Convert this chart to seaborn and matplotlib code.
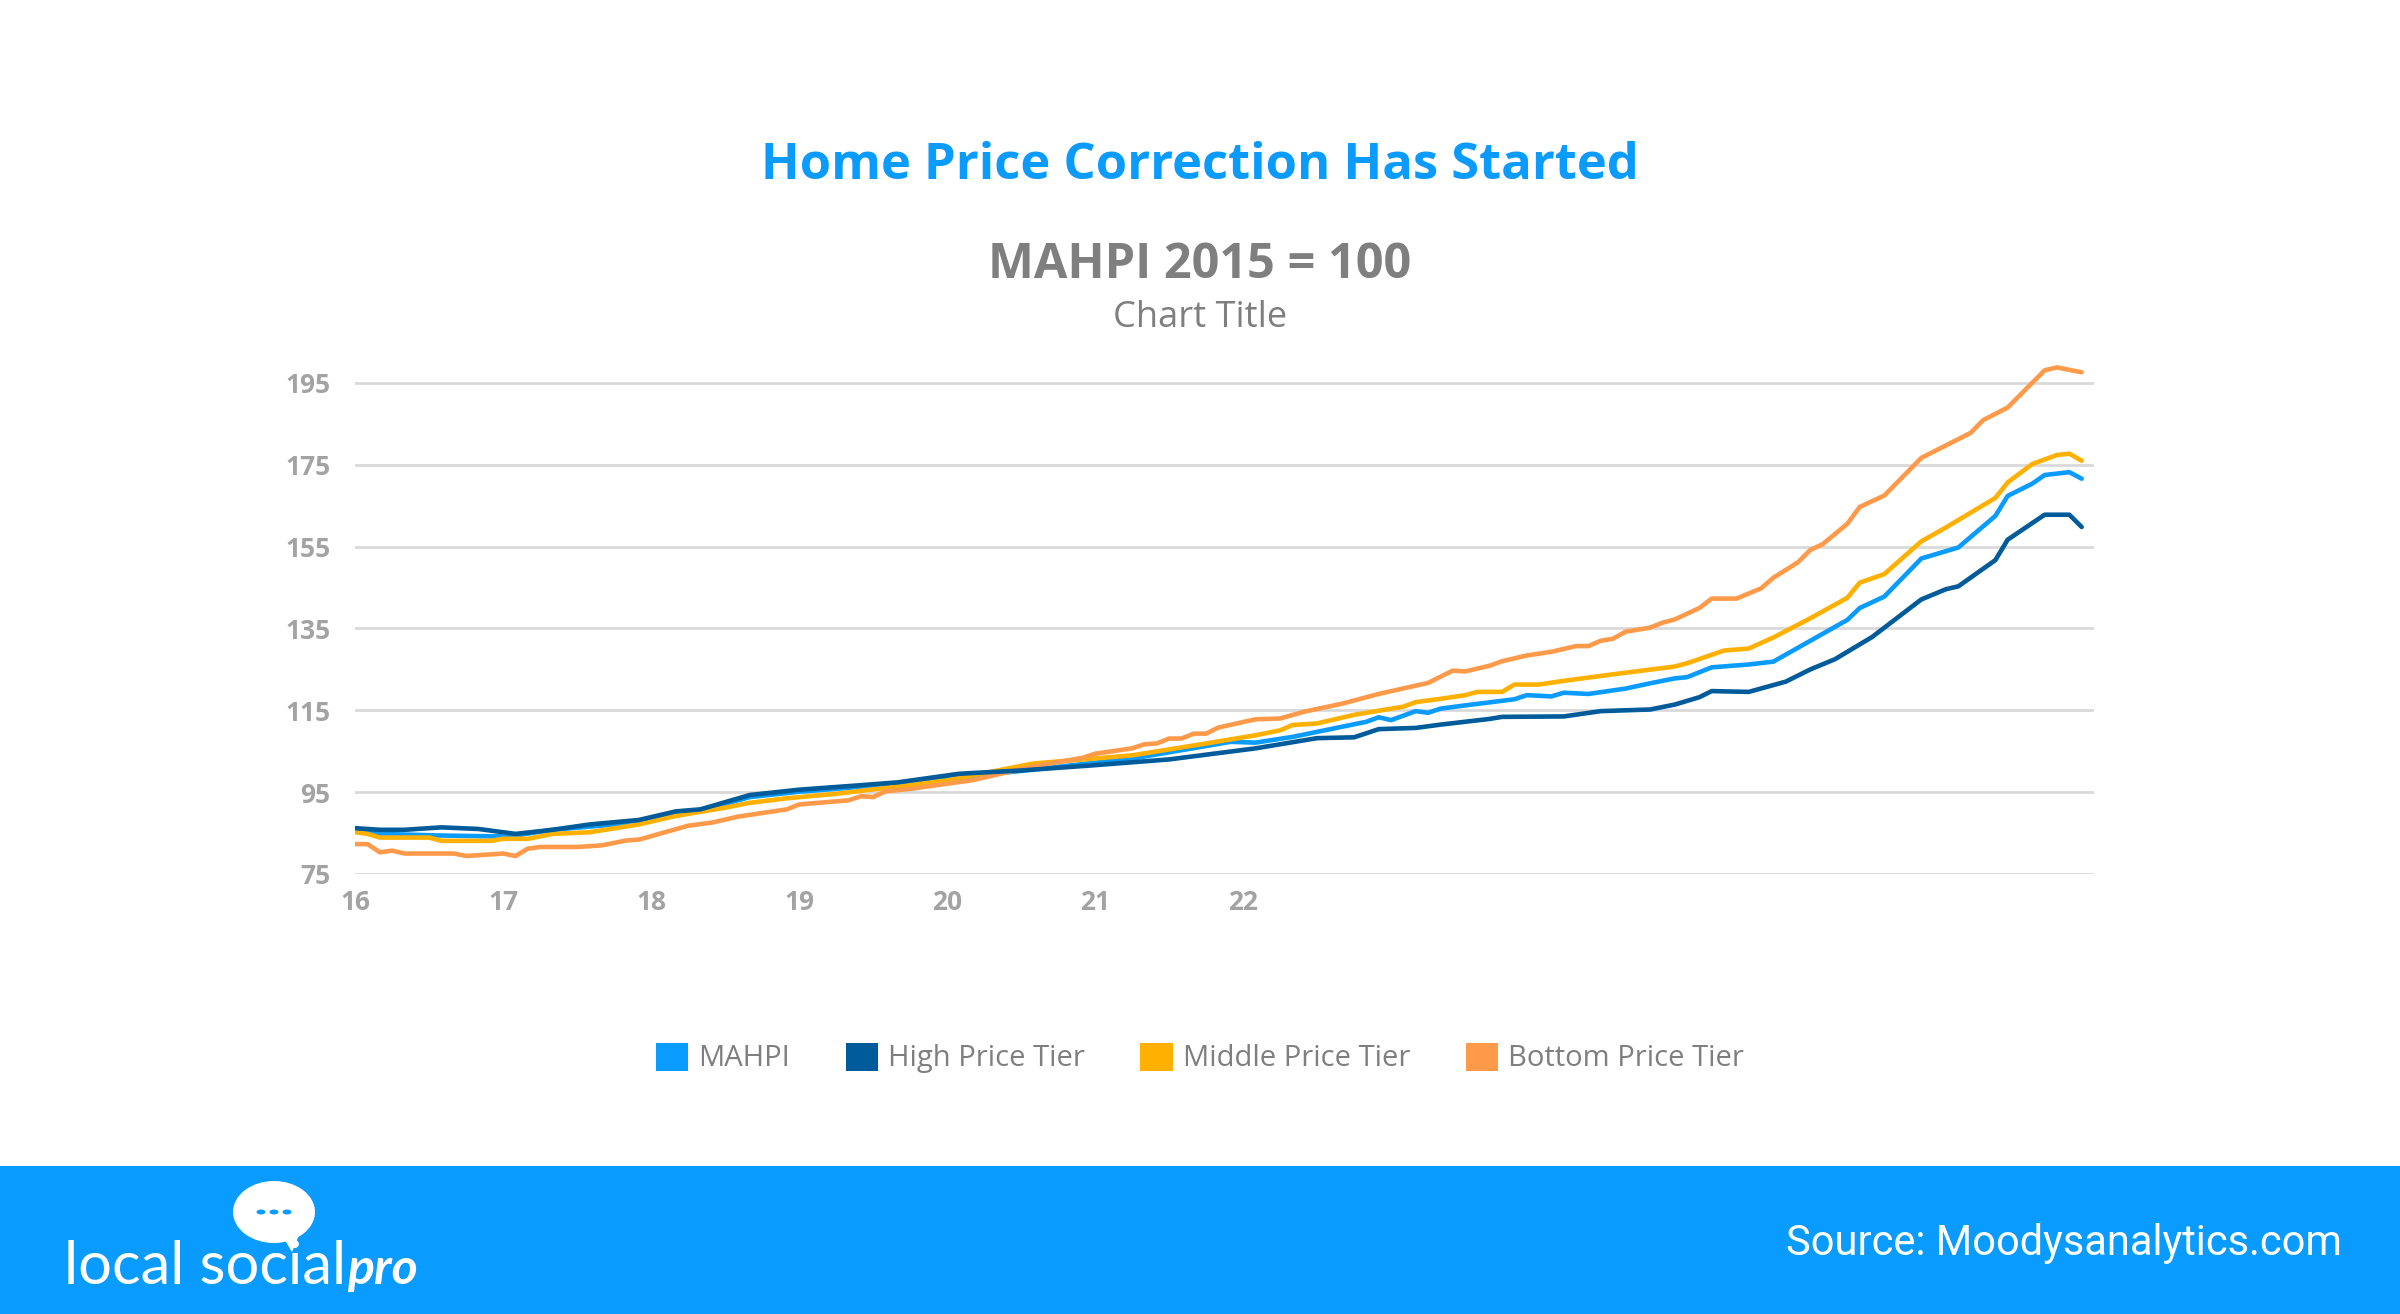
import pandas as pd
import seaborn as sns
import matplotlib.pyplot as plt
from matplotlib.patches import Patch, Rectangle, Ellipse, Polygon, Circle

# Moody's Analytics home price index, 2015 = 100 (months since Jan 2016)
mahpi_months = [0, 2, 7, 11, 13, 16, 23, 28, 32, 36, 44, 48, 54, 63, 71, 73, 76, 82, 83, 84,
                86, 87, 88, 90, 94, 95, 97, 98, 100, 103, 105, 107, 108, 110, 113, 115, 116,
                118, 121, 122, 124, 127, 130, 133, 134, 136, 137, 139, 140]
mahpi_values = [85.6, 84.8, 84.4, 84.2, 84.4, 85.8, 87.6, 90.4, 93.8, 95.1, 97.0, 98.3, 100.2,
                103.2, 107.3, 107.1, 108.5, 112.2, 113.3, 112.6, 114.8, 114.4, 115.4, 116.2,
                117.7, 118.7, 118.4, 119.3, 119.0, 120.3, 121.6, 122.8, 123.1, 125.5, 126.2,
                126.9, 128.6, 132.0, 137.1, 140.0, 142.8, 152.1, 154.8, 162.5, 167.4, 170.4,
                172.5, 173.2, 171.6]

high_months = [0, 2, 4, 7, 10, 13, 16, 19, 23, 26, 28, 32, 36, 41, 44, 49, 54, 60, 66, 73, 78,
               81, 83, 86, 88, 92, 93, 98, 101, 105, 107, 109, 110, 113, 116, 118, 120, 123,
               127, 129, 130, 133, 134, 137, 139, 140]
high_values = [86.2, 85.8, 85.8, 86.4, 86.0, 84.8, 85.8, 87.1, 88.2, 90.3, 90.8, 94.3, 95.6,
               96.7, 97.4, 99.5, 100.3, 101.6, 103.0, 105.7, 108.2, 108.4, 110.4, 110.7, 111.5,
               112.9, 113.4, 113.5, 114.8, 115.2, 116.4, 118.2, 119.7, 119.5, 122.0, 125.0,
               127.5, 132.9, 142.1, 144.6, 145.3, 151.7, 156.7, 162.8, 162.8, 159.8]

middle_months = [0, 1, 2, 6, 7, 11, 12, 14, 16, 19, 23, 26, 30, 32, 35, 39, 44, 48, 55, 63, 69,
                 73, 75, 76, 78, 81, 85, 86, 88, 90, 91, 93, 94, 96, 98, 102, 107, 108, 111,
                 113, 115, 118, 121, 122, 124, 127, 129, 133, 134, 136, 138, 139, 140]
middle_values = [85.2, 84.8, 83.9, 83.9, 83.1, 83.1, 83.6, 83.6, 84.8, 85.2, 87.1, 89.2, 91.2,
                 92.4, 93.5, 94.6, 96.4, 97.9, 102.0, 104.0, 106.9, 108.9, 110.1, 111.4, 111.8,
                 113.9, 115.9, 117.0, 117.8, 118.7, 119.5, 119.5, 121.3, 121.3, 122.2, 123.8,
                 125.7, 126.5, 129.6, 130.1, 132.8, 137.5, 142.5, 146.2, 148.3, 156.3, 159.7,
                 166.9, 170.7, 175.2, 177.4, 177.7, 176.0]

bottom_months = [0, 1, 2, 3, 4, 8, 9, 12, 13, 14, 15, 18, 20, 22, 23, 27, 29, 31, 35, 36, 40,
                 41, 42, 43, 44, 45, 50, 55, 59, 60, 63, 64, 65, 66, 67, 68, 69, 70, 73, 75, 77,
                 80, 83, 87, 88, 89, 90, 92, 93, 95, 97, 99, 100, 101, 102, 103, 105, 106, 107,
                 109, 110, 112, 114, 115, 117, 118, 119, 121, 122, 124, 127, 131, 132, 134, 137,
                 138, 139, 140]
bottom_values = [82.3, 82.3, 80.3, 80.7, 80.0, 80.0, 79.4, 80.0, 79.4, 81.2, 81.6, 81.6, 82.0,
                 83.2, 83.4, 86.8, 87.6, 89.0, 90.8, 92.0, 93.0, 94.0, 93.8, 95.2, 95.5, 95.8,
                 97.9, 101.3, 103.4, 104.4, 105.7, 106.7, 106.9, 108.1, 108.1, 109.3, 109.3,
                 110.8, 112.8, 113.0, 114.7, 116.6, 119.0, 121.7, 123.2, 124.7, 124.5, 125.9,
                 127.0, 128.4, 129.3, 130.7, 130.7, 132.0, 132.5, 134.2, 135.2, 136.4, 137.2,
                 140.0, 142.3, 142.3, 144.8, 147.4, 151.2, 154.2, 155.6, 160.6, 164.7, 167.5,
                 176.7, 182.8, 185.9, 189.0, 198.1, 198.8, 198.2, 197.6]

series_names = ['MAHPI', 'High Price Tier', 'Middle Price Tier', 'Bottom Price Tier']
series_colors = ['#0a9bff', '#005b9a', '#ffb000', '#ff9a4a']
year_ticks = [0, 12, 24, 36, 48, 60, 72]
year_labels = ['16', '17', '18', '19', '20', '21', '22']
y_ticks = [75, 95, 115, 135, 155, 175, 195]

frames = []
for name, months, values in [
    ('MAHPI', mahpi_months, mahpi_values),
    ('High Price Tier', high_months, high_values),
    ('Middle Price Tier', middle_months, middle_values),
    ('Bottom Price Tier', bottom_months, bottom_values),
]:
    frames.append(pd.DataFrame({'month': months, 'index': values, 'series': name}))
df = pd.concat(frames, ignore_index=True)

sns.set_theme(style='white')
plt.rcParams['font.family'] = ['Open Sans', 'DejaVu Sans']

fig = plt.figure(figsize=(24, 13.14), dpi=100)
ax = fig.add_axes([0.148, 0.33486, 0.7245, 0.38927])

palette = dict(zip(series_names, series_colors))
# draw order so the high tier sits on top, like the original
for name in ['MAHPI', 'Middle Price Tier', 'Bottom Price Tier', 'High Price Tier']:
    sns.lineplot(data=df[df['series'] == name], x='month', y='index', color=palette[name],
                 linewidth=3.3, ax=ax, legend=False, solid_capstyle='round', zorder=3)

ax.set_xlim(0, 141)
ax.set_ylim(75, 200)
ax.set_yticks(y_ticks)
ax.set_xticks(year_ticks)
ax.set_xticklabels(year_labels)
ax.yaxis.grid(True, color='#d9d9d9', linewidth=2)
ax.xaxis.grid(False)
ax.set_axisbelow(True)
for s in ax.spines.values():
    s.set_visible(False)
ax.set_xlabel('')
ax.set_ylabel('')
ax.tick_params(axis='y', length=0, pad=18, labelsize=19, labelcolor='#a3a3a3')
ax.tick_params(axis='x', length=0, pad=11, labelsize=19, labelcolor='#a3a3a3')
for lab in ax.get_xticklabels() + ax.get_yticklabels():
    lab.set_fontweight('bold')

fig.text(0.5, 1 - 166 / 1314, 'Home Price Correction Has Started', ha='center', va='center',
         fontsize=36.5, fontweight='bold', color='#0a9bff')
fig.text(0.5, 1 - 266 / 1314, 'MAHPI 2015 = 100', ha='center', va='center',
         fontsize=35, fontweight='bold', color='#7f7f7f')
fig.text(0.5, 1 - 318 / 1314, 'Chart Title', ha='center', va='center',
         fontsize=26, color='#7f7f7f')

handles = [Patch(facecolor=c, edgecolor='none') for c in series_colors]
fig.legend(handles, series_names, loc='center', bbox_to_anchor=(0.5, 1 - 1058 / 1314),
           ncol=4, frameon=False, fontsize=21, labelcolor='#7f7f7f',
           handlelength=1.1, handleheight=1.1, handletextpad=0.35, columnspacing=1.9)

# footer band
fig.patches.append(Rectangle((0, 0), 1, 148 / 1314, transform=fig.transFigure,
                             facecolor='#0a9bff', edgecolor='none', zorder=0))
fig.text(2342 / 2400, 1 - 1243 / 1314, 'Source: Moodysanalytics.com', ha='right', va='center',
         fontsize=30, color='white', family=['Roboto', 'DejaVu Sans'])

# logo
fig.text(64 / 2400, 1 - 1284 / 1314, 'local social', ha='left', va='baseline',
         fontsize=43, color='white', family=['Lato', 'DejaVu Sans'])
fig.text(347 / 2400, 1 - 1284 / 1314, 'pro', ha='left', va='baseline',
         fontsize=36, color='white', fontweight='bold', fontstyle='italic',
         family=['Lato', 'DejaVu Sans'])
fig.patches.append(Ellipse((274 / 2400, 1 - 1212 / 1314), 82 / 2400, 62 / 1314,
                           transform=fig.transFigure, facecolor='white', edgecolor='none'))
fig.patches.append(Polygon([(280 / 2400, 1 - 1232 / 1314), (302 / 2400, 1 - 1228 / 1314),
                            (292 / 2400, 1 - 1252 / 1314)], closed=True,
                           transform=fig.transFigure, facecolor='white', edgecolor='none'))
for dx in (-13, 0, 13):
    fig.patches.append(Circle(((274 + dx) / 2400, 1 - 1212 / 1314), 4.5 / 2400,
                              transform=fig.transFigure, facecolor='#0a9bff', edgecolor='none'))

fig.savefig('out.png', dpi=100, facecolor='white')
